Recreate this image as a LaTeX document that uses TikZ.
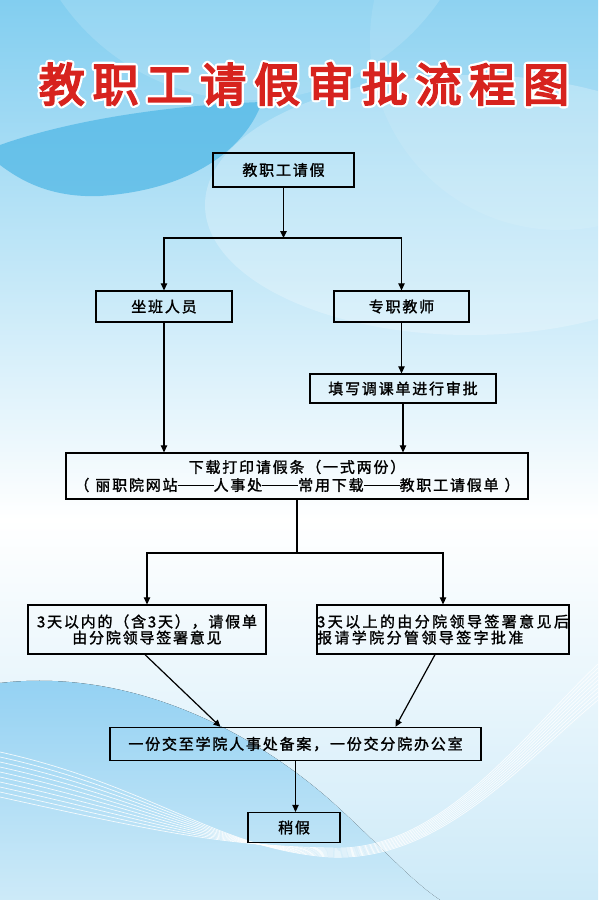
\documentclass[tikz,border=0pt]{standalone}
\usepackage{fontspec}
\setmainfont{Noto Sans CJK SC}
\newfontfamily\boxfont[LetterSpace=12,FakeBold=1.5]{Noto Sans CJK SC}
\newfontfamily\widefont[LetterSpace=16,FakeBold=1.5]{Noto Sans CJK SC}
\newfontfamily\titlefont[LetterSpace=17,FakeBold=4]{Noto Sans CJK SC}
\newfontfamily\titleplain[LetterSpace=17]{Noto Sans CJK SC}
\usetikzlibrary{arrows.meta,calc}
\definecolor{skytop}{RGB}{130,206,240}
\definecolor{skyblob}{RGB}{82,184,230}
\definecolor{skylow}{RGB}{205,234,248}
\definecolor{wave}{RGB}{145,208,242}
\definecolor{titlered}{RGB}{215,35,30}
\newcommand{\longdash}{\rule[0.3em]{2.4em}{0.07em}}
\newcommand{\rimtext}[1]{\special{pdf:literal 1 1 1 RG 6.5 w 1 j 2 Tr}#1\special{pdf:literal 0 Tr}}
\tikzset{
  flowbox/.style={draw=black, line width=1.3pt, inner sep=0pt, align=center,
    font=\boxfont\fontsize{15}{18}\selectfont},
  flowline/.style={-{Triangle[length=7pt,width=6.5pt]}, line width=1.2pt},
}

\begin{document}
\begin{tikzpicture}[x=1pt,y=-1pt]
    \useasboundingbox (0,0) rectangle (598,900);
    % background
    \begin{scope}
    \clip (0,0) rectangle (598,900);
    \fill[top color=skytop, bottom color=white] (0,0) rectangle (598,520);
    \fill[top color=white, bottom color=skylow] (0,519) rectangle (598,900);
    \fill[white, opacity=0.15] (250,-130) circle (230pt);
    \fill[skyblob, opacity=0.75] (0,145) .. controls (70,120) and (170,105) .. (262,102)
      .. controls (245,150) and (190,190) .. (100,196) .. controls (50,198) and (20,180) .. (0,165) -- cycle;
    \fill[white, opacity=0.25] (470,205) ellipse (265pt and 130pt);
    \fill[white, opacity=0.1] (560,40) circle (190pt);
    \fill[top color=wave, bottom color=skylow] (0,683) .. controls (130,668) and (250,730) .. (330,800)
      .. controls (380,845) and (410,880) .. (440,900) -- (0,900) -- cycle;
    \foreach \k in {0,...,9}
      \draw[white, line width=0.7pt, opacity=0.85] (0,752+\k*5) .. controls (150,785+\k*5) and (220,850-\k*0.5) .. (330,857-\k)
        .. controls (440,862-\k) and (520,765-\k*3) .. (598,700-\k*4);
    \end{scope}
    % title with white rim
    \node[text=white, font=\titleplain\fontsize{46}{50}\selectfont] (titlerim) at (304,84) {\rimtext{教职工请假审批流程图}};
    \node[text=titlered, font=\titlefont\fontsize{46}{50}\selectfont] (title) at (304,84) {教职工请假审批流程图};
    % boxes
    \node[flowbox, minimum width=141pt, minimum height=34pt] (apply) at (283.5,170) {教职工请假};
    \node[flowbox, minimum width=136pt, minimum height=31pt] (office) at (164,306.5) {坐班人员};
    \node[flowbox, minimum width=135pt, minimum height=31pt] (teacher) at (401.5,306.5) {专职教师};
    \node[flowbox, minimum width=186pt, minimum height=29pt] (swap) at (403,388.5) {填写调课单进行审批};
    \node[flowbox, minimum width=462pt, minimum height=46pt] (form) at (297,476)
      {下载打印请假条（一式两份）\\（\hspace{0.4em}丽职院网站\longdash 人事处\longdash 常用下载\longdash 教职工请假单\hspace{0.4em}）};
    \node[flowbox, minimum width=238pt, minimum height=49pt, font=\boxfont\fontsize{15}{16}\selectfont] (short) at (147,629.5)
      {3天以内的（含3天），请假单\\由分院领导签署意见};
    \node[flowbox, align=left, minimum width=252pt, minimum height=49pt, font=\widefont\fontsize{15}{16}\selectfont] (long) at (443,629.5)
      {3天以上的由分院领导签署意见后\\报请学院分管领导签字批准};
    \node[flowbox, minimum width=371pt, minimum height=33pt] (file) at (295.5,744) {一份交至学院人事处备案，一份交分院办公室};
    \node[flowbox, minimum width=92pt, minimum height=30pt] (cancel) at (294,827.5) {稍假};
    % connectors
    \coordinate (split) at (283.5,238);
    \coordinate (fork) at (297,553);
    \draw[flowline] (apply) -- (split);
    \draw[flowline] (split) -| (office);
    \draw[flowline] (split) -| (teacher);
    \draw[flowline] (teacher) -- (teacher |- swap.north);
    \draw[flowline] (office) -- (office |- form.north);
    \draw[flowline] (swap) -- (swap |- form.north);
    \draw[line width=1.2pt] (form) -- (fork);
    \draw[flowline] (fork) -| (short);
    \draw[flowline] (fork) -| (long);
    \draw[flowline] ([xshift=-2pt]short.south) -- ([xshift=-75pt]file.north);
    \draw[flowline] ([xshift=-8pt]long.south) -- ([xshift=100pt]file.north);
    \draw[flowline] (file) -- (file |- cancel.north);
\end{tikzpicture}
\end{document}
